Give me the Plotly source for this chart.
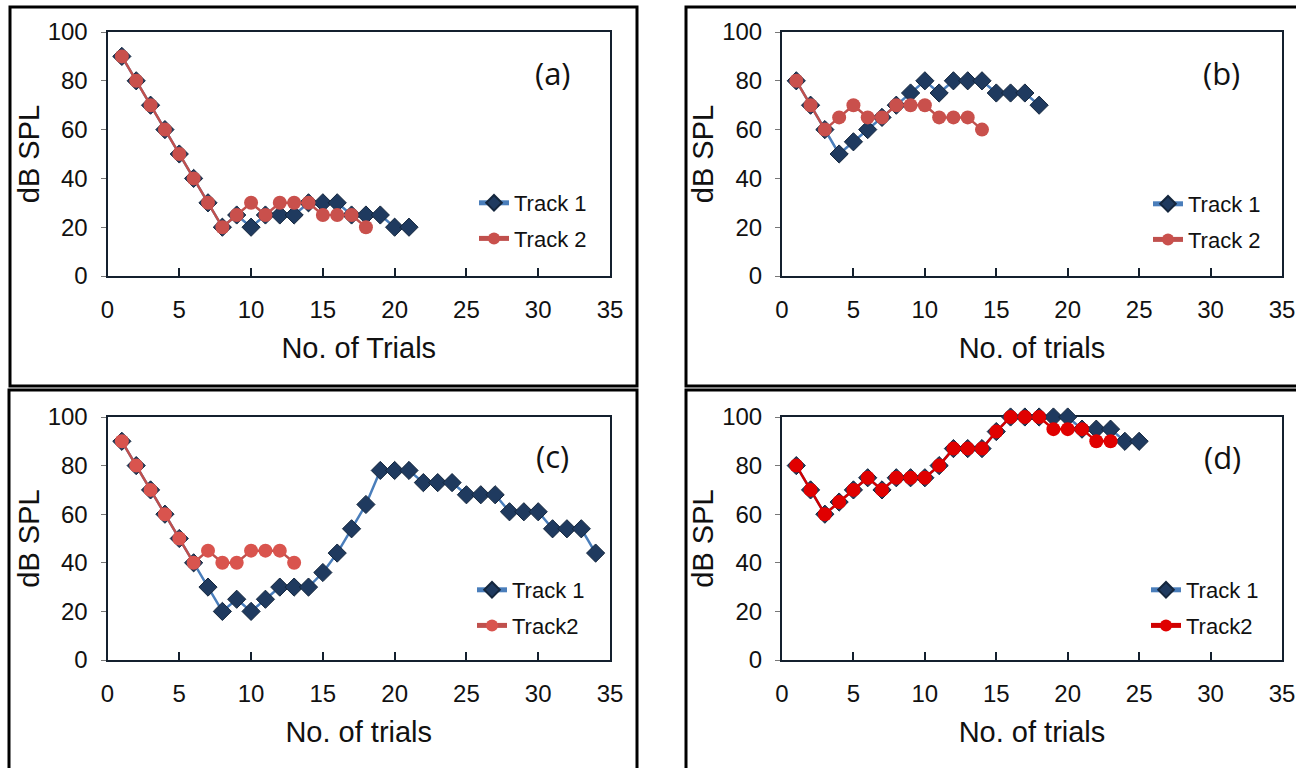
import plotly.graph_objects as go

# ---- data: hearing threshold tracks (dB SPL) per trial ----
# panel (a)
a_track1 = [90, 80, 70, 60, 50, 40, 30, 20, 25, 20, 25, 25, 25, 30, 30, 30, 25, 25, 25, 20, 20]
a_track2 = [90, 80, 70, 60, 50, 40, 30, 20, 25, 30, 25, 30, 30, 30, 25, 25, 25, 20]
# panel (b)
b_track1 = [80, 70, 60, 50, 55, 60, 65, 70, 75, 80, 75, 80, 80, 80, 75, 75, 75, 70]
b_track2 = [80, 70, 60, 65, 70, 65, 65, 70, 70, 70, 65, 65, 65, 60]
# panel (c)
c_track1 = [90, 80, 70, 60, 50, 40, 30, 20, 25, 20, 25, 30, 30, 30, 36, 44, 54, 64,
            78, 78, 78, 73, 73, 73, 68, 68, 68, 61, 61, 61, 54, 54, 54, 44]
c_track2 = [90, 80, 70, 60, 50, 40, 45, 40, 40, 45, 45, 45, 40]
# panel (d)
d_track1 = [80, 70, 60, 65, 70, 75, 70, 75, 75, 75, 80, 87, 87, 87, 94, 100, 100, 100,
            100, 100, 95, 95, 95, 90, 90]
d_track2 = [80, 70, 60, 65, 70, 75, 70, 75, 75, 75, 80, 87, 87, 87, 94, 100, 100, 100,
            95, 95, 95, 90, 90]

x_ticks = [0, 5, 10, 15, 20, 25, 30, 35]
y_ticks = [0, 20, 40, 60, 80, 100]

panels = [
    dict(tag="(a)", t1=a_track1, t2=a_track2, n1="Track 1", n2="Track 2",
         xtitle="No. of Trials", red="#c9504c", redline="#c0504d"),
    dict(tag="(b)", t1=b_track1, t2=b_track2, n1="Track 1", n2="Track 2",
         xtitle="No. of trials", red="#c9504c", redline="#c0504d"),
    dict(tag="(c)", t1=c_track1, t2=c_track2, n1="Track 1", n2="Track2",
         xtitle="No. of trials", red="#d9544e", redline="#c0504d"),
    dict(tag="(d)", t1=d_track1, t2=d_track2, n1="Track 1", n2="Track2",
         xtitle="No. of trials", red="#e00000", redline="#d00000"),
]

W, H = 1296, 768
FONT = "Liberation Sans, Arial, sans-serif"

# plot-area rectangles in pixels: (left, right, top, bottom)
areas = [(107.5, 610, 32, 276), (782, 1282, 32, 276),
         (107.5, 610, 417, 660), (782, 1282, 417, 660)]
# outer frame of each panel in pixels
frames = [(10, 637, 7, 386), (686, 1305, 7, 386),
          (9, 637, 390, 775), (686, 1305, 390, 775)]
# legend anchor (left, top) in pixels
legend_pos = [(474, 182), (1148, 183), (472, 569), (1146, 569)]
# panel tag centres
tag_pos = [(553, 73), (1221, 73), (552, 456), (1222, 457)]

fig = go.Figure()
layout = dict(width=W, height=H,
              margin=dict(l=0, r=0, t=0, b=0, autoexpand=False),
              paper_bgcolor="white", plot_bgcolor="white",
              font=dict(family=FONT, color="#111111"), annotations=[], shapes=[])

for i, p in enumerate(panels):
    k = "" if i == 0 else str(i + 1)
    xa, ya = "x" + k, "y" + k
    leg = "legend" + k
    fig.add_trace(go.Scatter(
        x=list(range(1, len(p["t1"]) + 1)), y=p["t1"], name=p["n1"],
        xaxis=xa, yaxis=ya, legend=leg, legendgroup="t1", mode="lines+markers",
        cliponaxis=False,
        line=dict(color="#4a7ebb", width=2.5),
        marker=dict(symbol="diamond", size=14, color="#1f3a5f",
                    line=dict(color="#14263d", width=1))))
    fig.add_trace(go.Scatter(
        x=list(range(1, len(p["t2"]) + 1)), y=p["t2"], name=p["n2"],
        xaxis=xa, yaxis=ya, legend=leg, legendgroup="t2", mode="lines+markers",
        cliponaxis=False,
        line=dict(color=p["redline"], width=2.5),
        marker=dict(symbol="circle", size=14, color=p["red"],
                    line=dict(color=p["red"], width=0))))

    l, r, t, b = areas[i]
    layout["xaxis" + k] = dict(
        domain=[l / W, r / W], anchor=ya, range=[0, 35], tickvals=x_ticks,
        showgrid=False, zeroline=False, showline=True, mirror=True,
        linecolor="#14202e", linewidth=2, ticks="inside", ticklen=8,
        tickcolor="#14202e", tickwidth=2, ticklabelstandoff=11,
        tickfont=dict(size=24, family=FONT, color="#111111"), layer="below traces",
        title=dict(text=p["xtitle"], font=dict(size=29, family=FONT, color="#111111"),
                   standoff=16))
    layout["yaxis" + k] = dict(
        domain=[1 - b / H, 1 - t / H], anchor=xa, range=[0, 100], tickvals=y_ticks,
        showgrid=False, zeroline=False, showline=True, mirror=True,
        linecolor="#14202e", linewidth=2, ticks="outside", ticklen=5,
        tickcolor="#777777", tickwidth=1, ticklabelstandoff=8,
        tickfont=dict(size=24, family=FONT, color="#111111"), layer="below traces",
        title=dict(text="dB SPL", font=dict(size=29, family=FONT, color="#111111"),
                   standoff=0))

    lx, ly = legend_pos[i]
    layout[leg] = dict(x=lx / W, y=1 - ly / H, xanchor="left", yanchor="top",
                       bgcolor="rgba(0,0,0,0)", font=dict(size=22, family=FONT, color="#111111"),
                       itemsizing="constant", tracegroupgap=4)

    tx, ty = tag_pos[i]
    layout["annotations"].append(dict(
        x=tx / W, y=1 - ty / H, xref="paper", yref="paper", xanchor="center",
        yanchor="middle", text=p["tag"], showarrow=False,
        font=dict(size=31, family="Open Sans, sans-serif", color="#111111")))

    fx0, fx1, fy0, fy1 = frames[i]
    layout["shapes"].append(dict(
        type="rect", xref="paper", yref="paper", x0=fx0 / W, x1=fx1 / W,
        y0=1 - fy1 / H, y1=1 - fy0 / H, line=dict(color="black", width=3)))

fig.update_layout(**layout)
fig.write_html("out.html")
